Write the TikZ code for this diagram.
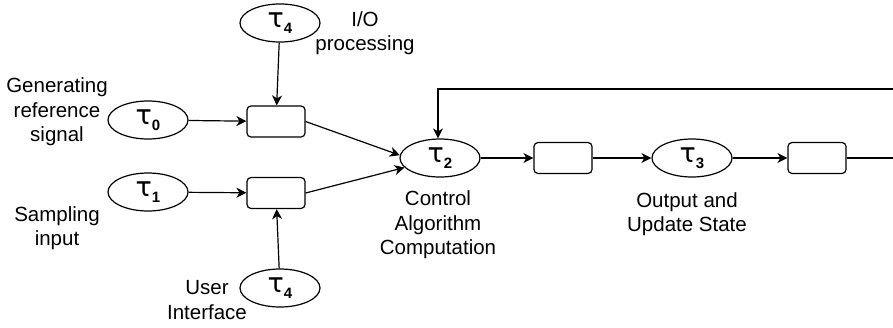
\documentclass[tikz,border=0pt]{standalone}
\usepackage{fontspec}
\setmainfont{Liberation Sans}
\newfontfamily\greekfont{DejaVu Sans}
\usetikzlibrary{shapes.geometric,arrows.meta}
\newcommand{\tk}[1]{{\greekfont\fontsize{27}{27}\selectfont τ}\raisebox{-6pt}{\fontsize{15}{15}\selectfont\bfseries #1}}
\begin{document}
\begin{tikzpicture}[x=1pt,y=-1pt,
  every path/.style={line width=1.2pt},
  task/.style={draw,ellipse,minimum width=80pt,minimum height=38pt,inner sep=0pt,line width=1.2pt},
  buf/.style={draw,rounded corners=4pt,minimum width=58pt,minimum height=31pt,inner sep=0pt,line width=1.2pt},
  lbl/.style={align=center,font=\fontsize{20.5}{24.5}\selectfont,inner sep=0pt},
  arr/.style={-{Stealth[length=10pt,width=10pt,inset=3pt]}}]
\useasboundingbox (0,0) rectangle (893,327);
\node[task] (t4a) at (280,23) {\tk{4}};
\node[task] (t0) at (148,120) {\tk{0}};
\node[task] (t1) at (148,192) {\tk{1}};
\node[task] (t4b) at (280,288) {\tk{4}};
\node[task] (t2) at (440,158) {\tk{2}};
\node[task] (t3) at (692,158) {\tk{3}};
\node[buf] (b1) at (276,121.5) {};
\node[buf] (b2) at (276,193) {};
\node[buf] (b3) at (563,158) {};
\node[buf] (b4) at (817,158) {};
\node[lbl] (lio) at (365,33) {I/O\\processing};
\node[lbl] (lgen) at (57,112) {Generating\\reference\\signal};
\node[lbl] (lsam) at (57,228) {Sampling\\input};
\node[lbl] (lui) at (207,300) {User\\Interface};
\node[lbl] (lctl) at (438,225) {Control\\Algorithm\\Computation};
\node[lbl] (lout) at (687,214) {Output and\\Update State};
\coordinate (fr) at (893,89);
\coordinate (fe) at (893,158);
\coordinate (fl) at (438,89);
\draw[arr] (t4a) -- (b1);
\draw[arr] (t0) -- (b1);
\draw[arr] (t1) -- (b2);
\draw[arr] (t4b) -- (b2);
\draw[arr] (b1.east) -- (t2.176);
\draw[arr] (b2.east) -- (t2.195);
\draw[arr] (t2) -- (b3);
\draw[arr] (b3) -- (t3);
\draw[arr] (t3) -- (b4);
\draw (b4) -- (fe);
\draw[arr] (fr) -- (fl) -- (t2.north -| fl);
\end{tikzpicture}
\end{document}
